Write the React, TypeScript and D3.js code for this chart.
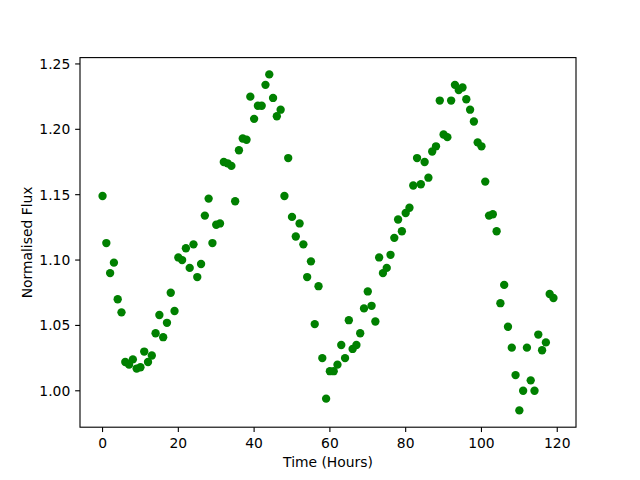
import React from "react";
import * as d3 from "d3";

const hours: number[] = Array.from({ length: 120 }, (_, i) => i);
const flux: number[] = [
  1.149, 1.113, 1.090, 1.098, 1.070, 1.060, 1.022, 1.020, 1.024, 1.017,
  1.018, 1.030, 1.022, 1.027, 1.044, 1.058, 1.041, 1.052, 1.075, 1.061,
  1.102, 1.100, 1.109, 1.094, 1.112, 1.087, 1.097, 1.134, 1.147, 1.113,
  1.127, 1.128, 1.175, 1.174, 1.172, 1.145, 1.184, 1.193, 1.192, 1.225,
  1.208, 1.218, 1.218, 1.234, 1.242, 1.224, 1.210, 1.215, 1.149, 1.178,
  1.133, 1.118, 1.128, 1.112, 1.087, 1.099, 1.051, 1.080, 1.025, 0.994,
  1.015, 1.015, 1.020, 1.035, 1.025, 1.054, 1.032, 1.035, 1.044, 1.063,
  1.076, 1.065, 1.053, 1.102, 1.090, 1.094, 1.104, 1.117, 1.131, 1.122,
  1.136, 1.140, 1.157, 1.178, 1.158, 1.175, 1.163, 1.183, 1.187, 1.222,
  1.196, 1.194, 1.222, 1.234, 1.230, 1.232, 1.223, 1.215, 1.206, 1.190,
  1.187, 1.160, 1.134, 1.135, 1.122, 1.067, 1.081, 1.049, 1.033, 1.012,
  0.985, 1.000, 1.033, 1.008, 1.000, 1.043, 1.031, 1.037, 1.074, 1.071,
];
const xTicks: number[] = [0, 20, 40, 60, 80, 100, 120];
const yTicks: number[] = [1.0, 1.05, 1.1, 1.15, 1.2, 1.25];
const xLabel = "Time (Hours)";
const yLabel = "Normalised Flux";

export default function App() {
  const W = 640, H = 480;
  const left = 80, right = 576, top = 57.6, bottom = 427.2;
  const [x0, x1] = d3.extent(hours) as [number, number];
  const [y0, y1] = d3.extent(flux) as [number, number];
  const mx = (x1 - x0) * 0.05, my = (y1 - y0) * 0.05;
  const x = d3.scaleLinear().domain([x0 - mx, x1 + mx]).range([left, right]);
  const y = d3.scaleLinear().domain([y0 - my, y1 + my]).range([bottom, top]);
  const font = "'DejaVu Sans', sans-serif";
  const fs = 13.89;
  const tick = 4.86;
  return (
    <svg width={W} height={H} style={{ position: "absolute", left: 0, top: 0 }}>
      <rect x={0} y={0} width={W} height={H} fill="#fff" />
      {hours.map((h, i) => (
        <circle key={i} cx={x(h)} cy={y(flux[i])} r={4.17} fill="#008000" />
      ))}
      <rect x={left} y={top} width={right - left} height={bottom - top} fill="none" stroke="#000" strokeWidth={1.11} />
      {xTicks.map((t) => (
        <g key={t}>
          <line x1={x(t)} x2={x(t)} y1={bottom} y2={bottom + tick} stroke="#000" strokeWidth={1.11} />
          <text x={x(t)} y={447.5} textAnchor="middle" fontFamily={font} fontSize={fs} fill="#000">{t}</text>
        </g>
      ))}
      {yTicks.map((t) => (
        <g key={t}>
          <line x1={left - tick} x2={left} y1={y(t)} y2={y(t)} stroke="#000" strokeWidth={1.11} />
          <text x={left - 2 * tick} y={y(t)} dy="0.36em" textAnchor="end" fontFamily={font} fontSize={fs} fill="#000">{t.toFixed(2)}</text>
        </g>
      ))}
      <text x={(left + right) / 2} y={467} textAnchor="middle" fontFamily={font} fontSize={fs} fill="#000">{xLabel}</text>
      <text transform={`translate(32, ${(top + bottom) / 2}) rotate(-90)`} textAnchor="middle" fontFamily={font} fontSize={fs} fill="#000">{yLabel}</text>
    </svg>
  );
}
